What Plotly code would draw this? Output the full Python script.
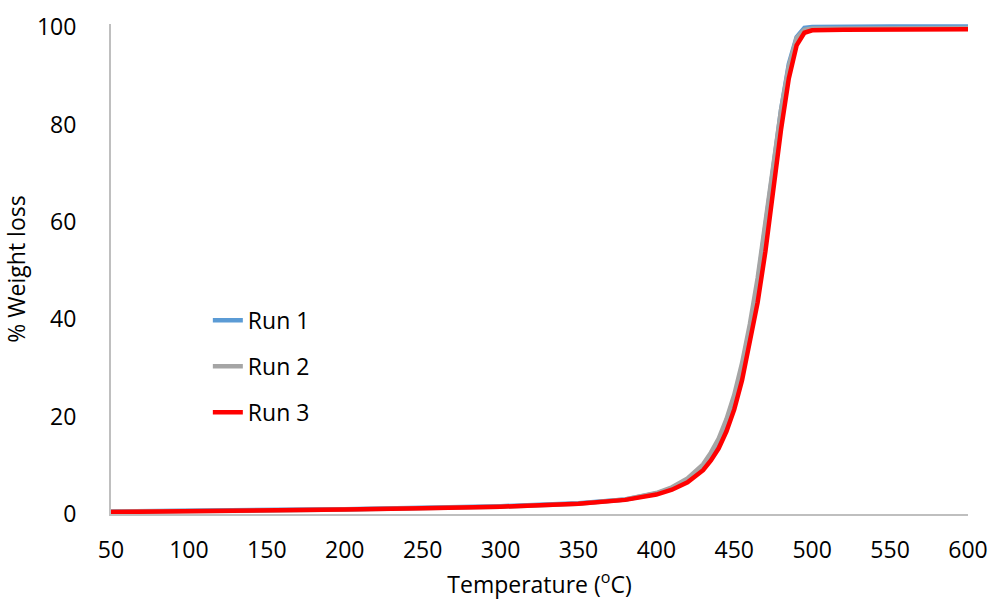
import plotly.graph_objects as go

temps = [50, 100, 150, 200, 250, 300, 350, 380, 400, 410, 420, 430, 435, 440, 445, 450,
         455, 460, 465, 470, 475, 480, 485, 490, 495, 500, 520, 550, 600]

run1 = [0.5, 0.6, 0.8, 1.0, 1.3, 1.6, 2.2, 3.0, 4.2, 5.3, 7.0, 9.8, 12.0, 14.8, 18.6, 23.5,
        30.0, 38.0, 47.5, 58.5, 71.0, 83.0, 92.5, 98.0, 99.9, 100.1, 100.2, 100.2, 100.2]
run2 = [0.5, 0.5, 0.7, 0.9, 1.2, 1.5, 2.1, 3.0, 4.3, 5.5, 7.3, 10.2, 12.6, 15.5, 19.5, 24.5,
        31.0, 39.0, 48.5, 59.5, 71.5, 83.0, 92.0, 97.8, 99.5, 99.8, 99.8, 99.8, 99.9]
run3 = [0.4, 0.5, 0.7, 0.9, 1.2, 1.5, 2.1, 2.9, 4.0, 5.0, 6.5, 9.0, 11.0, 13.5, 17.0, 21.5,
        27.5, 35.0, 43.5, 54.0, 66.5, 79.0, 89.5, 96.3, 98.9, 99.4, 99.5, 99.5, 99.6]

names = ["Run 1", "Run 2", "Run 3"]
colors = ["#5B9BD5", "#A5A5A5", "#FF0000"]
x_ticks = [50, 100, 150, 200, 250, 300, 350, 400, 450, 500, 550, 600]
y_ticks = [0, 20, 40, 60, 80, 100]

font_family = "Open Sans, Noto Sans, sans-serif"

fig = go.Figure()
for name, ys, c in zip(names, [run1, run2, run3], colors):
    fig.add_trace(go.Scatter(x=temps, y=ys, mode="lines", name=name, legendgroup=name,
                             line=dict(color=c, width=4.5)))

fig.update_layout(
    width=992, height=601,
    margin=dict(l=111, r=24, t=24, b=87, autoexpand=False),
    paper_bgcolor="white", plot_bgcolor="white",
    font=dict(family=font_family, size=23, color="#000000"),
    showlegend=True,
    legend=dict(x=0.113, y=0.439, xanchor="left", yanchor="top",
                bgcolor="rgba(0,0,0,0)", font=dict(size=23),
                tracegroupgap=13),
    xaxis=dict(range=[50, 600], tickvals=x_ticks, ticks="", showgrid=False,
               zeroline=False, showline=True, linecolor="#BFBFBF", linewidth=2,
               automargin=False, ticklabelstandoff=14,
               title=dict(text="Temperature (<sup>o</sup>C)", standoff=13,
                          font=dict(size=23))),
    yaxis=dict(range=[0, 100.7], tickvals=y_ticks, ticks="", showgrid=False,
               zeroline=False, showline=True, linecolor="#BFBFBF", linewidth=2,
               automargin=False, ticklabelstandoff=28,
               title=dict(text="% Weight loss", standoff=10, font=dict(size=23))),
)

fig.write_html("out.html")
